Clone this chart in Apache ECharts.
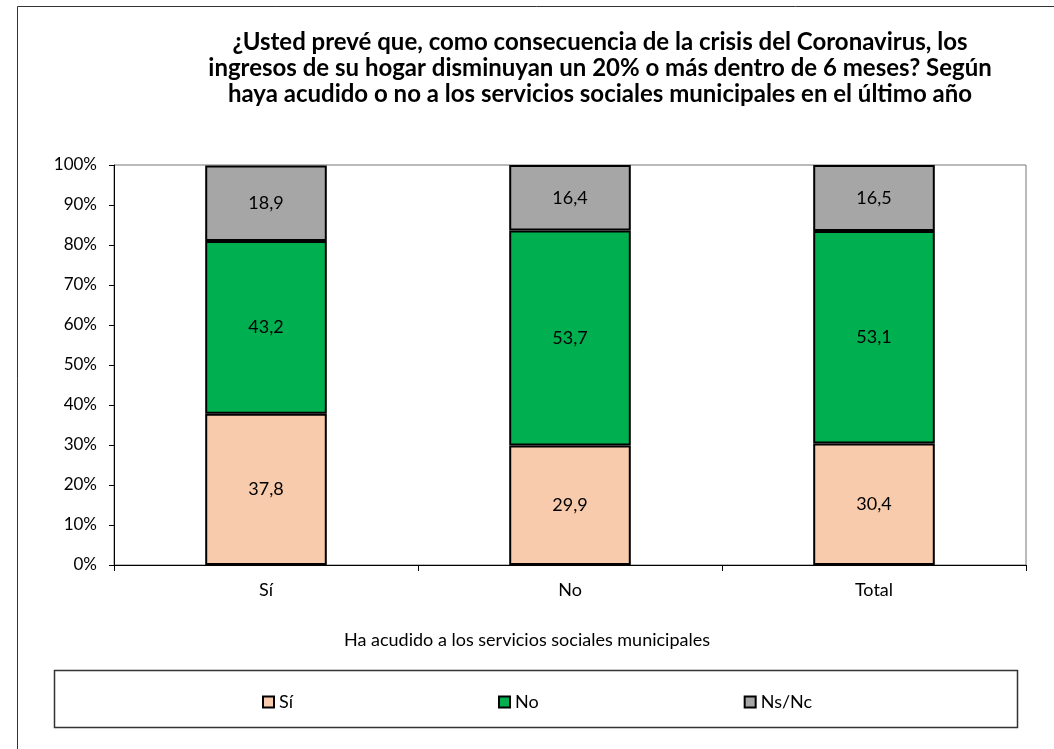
<!DOCTYPE html>
<html>
<head>
<meta charset="utf-8">
<script src="https://cdn.jsdelivr.net/npm/echarts@6/dist/echarts.min.js"></script>
<style>
  html, body { margin: 0; padding: 0; background: #fff; }
  #main { width: 1054px; height: 749px; }
</style>
</head>
<body>
<div id="main"></div>
<script>
// datos
var categorias = ['Sí', 'No', 'Total'];
var serieSi = [37.8, 29.9, 30.4];
var serieNo = [43.2, 53.7, 53.1];
var serieNsNc = [18.9, 16.4, 16.5];
var nombres = ['Sí', 'No', 'Ns/Nc'];
var colores = ['#F8CBAD', '#00B050', '#A6A6A6'];

var chart = echarts.init(document.getElementById('main'));

function etiqueta(p) {
    return String(p.value).replace('.', ',');
}

function serie(nombre, datos, color) {
    return {
        name: nombre,
        type: 'bar',
        stack: 'total',
        barWidth: '40%',
        data: datos,
        itemStyle: { color: color, borderColor: '#000', borderWidth: 2 },
        label: {
            show: true,
            position: 'inside',
            color: '#000',
            fontSize: 18,
            fontFamily: 'Lato',
            formatter: etiqueta
        }
    };
}

chart.setOption({
    animation: false,
    title: [{
        text: '¿Usted prevé que, como consecuencia de la crisis del Coronavirus, los\ningresos de su hogar disminuyan un 20% o más dentro de 6 meses? Según\nhaya acudido o no a los servicios sociales municipales en el último año',
        left: 595,
        top: 24,
        textAlign: 'center',
        textStyle: { fontFamily: 'Lato', fontWeight: 'bold', fontSize: 24, lineHeight: 26, color: '#000' }
    }, {
        text: 'Ha acudido a los servicios sociales municipales',
        left: 522,
        top: 626,
        textAlign: 'center',
        textStyle: { fontFamily: 'Lato', fontWeight: 'normal', fontSize: 18, color: '#000' }
    }],
    graphic: [{
        type: 'rect',
        shape: { x: 17.5, y: 6.5, width: 1100, height: 800 },
        style: { fill: 'none', stroke: '#333', lineWidth: 1 },
        silent: true
    }, {
        type: 'rect',
        shape: { x: 54.5, y: 670.5, width: 963, height: 57 },
        style: { fill: 'none', stroke: '#333', lineWidth: 1.5 },
        silent: true
    }],
    legend: {
        data: nombres,
        left: 257,
        top: 688,
        itemGap: 205,
        itemWidth: 11,
        itemHeight: 11,
        icon: 'rect',
        textStyle: { fontFamily: 'Lato', fontSize: 18, color: '#000' }
    },
    grid: {
        left: 114,
        right: 28,
        top: 165,
        bottom: 184,
        show: true,
        borderColor: '#777',
        borderWidth: 1
    },
    xAxis: {
        type: 'category',
        data: categorias,
        axisLine: { lineStyle: { color: '#000', width: 1 } },
        axisTick: { show: true, length: 6, lineStyle: { color: '#000' } },
        axisLabel: { fontFamily: 'Lato', fontSize: 18, color: '#000', margin: 16 }
    },
    yAxis: {
        type: 'value',
        min: 0,
        max: 100,
        interval: 10,
        axisLine: { show: true, lineStyle: { color: '#000', width: 1 } },
        axisTick: { show: true, length: 5, lineStyle: { color: '#000' } },
        splitLine: { show: false },
        axisLabel: { formatter: '{value}%', fontFamily: 'Lato', fontSize: 17, color: '#000', margin: 17 }
    },
    series: [
        serie(nombres[0], serieSi, colores[0]),
        serie(nombres[1], serieNo, colores[1]),
        serie(nombres[2], serieNsNc, colores[2])
    ]
});
</script>
</body>
</html>
